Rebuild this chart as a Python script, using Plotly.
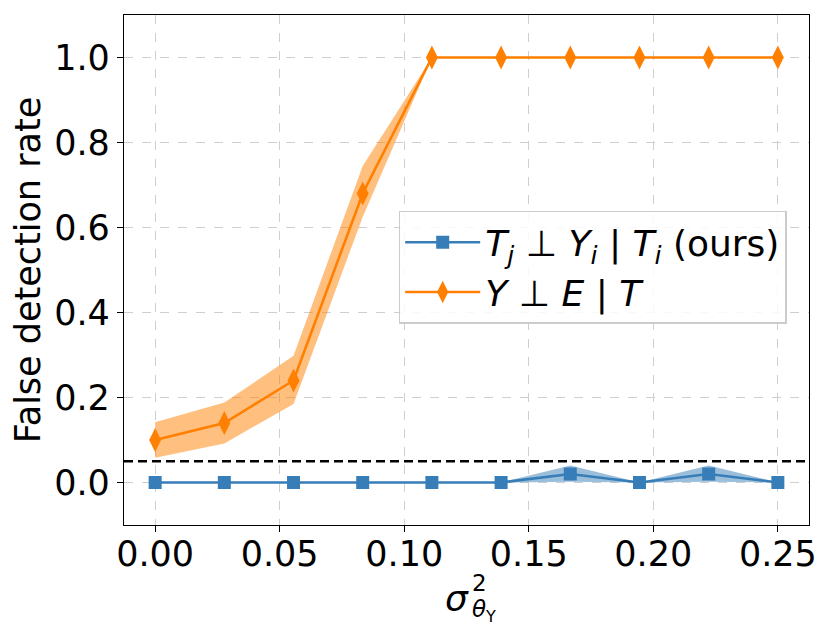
import plotly.graph_objects as go

x_vals = [0.0, 0.02778, 0.05556, 0.08333, 0.11111, 0.13889, 0.16667, 0.19444, 0.22222, 0.25]

ours_mean = [0.0, 0.0, 0.0, 0.0, 0.0, 0.0, 0.02, 0.0, 0.02, 0.0]
ours_lo = [0.0, 0.0, 0.0, 0.0, 0.0, 0.0, 0.002, 0.0, 0.002, 0.0]
ours_hi = [0.0, 0.0, 0.0, 0.0, 0.0, 0.0, 0.04, 0.0, 0.04, 0.0]

base_mean = [0.10, 0.14, 0.24, 0.68, 1.0, 1.0, 1.0, 1.0, 1.0, 1.0]
base_lo = [0.058, 0.092, 0.185, 0.625, 1.0, 1.0, 1.0, 1.0, 1.0, 1.0]
base_hi = [0.142, 0.188, 0.298, 0.745, 1.0, 1.0, 1.0, 1.0, 1.0, 1.0]

threshold = 0.05

x_ticks = [0.0, 0.05, 0.10, 0.15, 0.20, 0.25]
y_ticks = [0.0, 0.2, 0.4, 0.6, 0.8, 1.0]

blue = "#377eb8"
orange = "#ff7f00"
font = "DejaVu Sans"

fig = go.Figure()

# bands
fig.add_trace(go.Scatter(x=x_vals, y=ours_lo, mode="lines", line=dict(width=0),
                         showlegend=False, hoverinfo="skip"))
fig.add_trace(go.Scatter(x=x_vals, y=ours_hi, mode="lines", line=dict(width=0),
                         fill="tonexty", fillcolor="rgba(55,126,184,0.5)",
                         showlegend=False, hoverinfo="skip"))
fig.add_trace(go.Scatter(x=x_vals, y=base_lo, mode="lines", line=dict(width=0),
                         showlegend=False, hoverinfo="skip"))
fig.add_trace(go.Scatter(x=x_vals, y=base_hi, mode="lines", line=dict(width=0),
                         fill="tonexty", fillcolor="rgba(255,127,0,0.5)",
                         showlegend=False, hoverinfo="skip"))

fig.add_trace(go.Scatter(
    x=x_vals, y=ours_mean, mode="lines+markers",
    name="<i>T</i><sub><i>j</i></sub> ⊥ <i>Y</i><sub><i>i</i></sub> | <i>T</i><sub><i>i</i></sub> (ours)",
    line=dict(color=blue, width=2.6),
    marker=dict(symbol="square", size=13, color=blue)))
fig.add_trace(go.Scatter(
    x=x_vals, y=base_mean, mode="lines+markers",
    name="<i>Y</i> ⊥ <i>E</i> | <i>T</i>",
    line=dict(color=orange, width=2.6),
    marker=dict(symbol="diamond-tall", size=17, color=orange)))

fig.add_shape(type="line", xref="paper", yref="y", x0=0, x1=1, y0=threshold, y1=threshold,
              line=dict(color="black", width=2.6, dash="9px,5px"))

axis_common = dict(
    showline=True, linecolor="black", linewidth=1.3, mirror=True,
    ticks="outside", ticklen=6, tickcolor="black", tickwidth=1.3,
    showgrid=True, gridcolor="#cfcfcf", griddash="dash", gridwidth=1.2,
    zeroline=False, automargin=False,
    tickfont=dict(family=font, size=35, color="black"),
)

fig.update_xaxes(range=[-0.0125, 0.2625], tickvals=x_ticks, tickformat=".2f",
                 ticklabelstandoff=-8, **axis_common)
fig.update_yaxes(range=[-0.1, 1.1], tickvals=y_ticks, tickformat=".1f",
                 title=dict(text="False detection rate", font=dict(family=font, size=35, color="black"), standoff=5),
                 **axis_common)

# x-axis title sigma^2_{theta_Y}
fig.add_annotation(xref="paper", yref="paper", x=0.5, y=0, yshift=-73, xshift=-10,
                   text="<i>σ</i>", showarrow=False, xanchor="center", yanchor="middle",
                   font=dict(family=font, size=36, color="black"))
fig.add_annotation(xref="paper", yref="paper", x=0.5, y=0, yshift=-58, xshift=3,
                   text="2", showarrow=False, xanchor="left", yanchor="middle",
                   font=dict(family=font, size=23, color="black"))
fig.add_annotation(xref="paper", yref="paper", x=0.5, y=0, yshift=-86, xshift=3,
                   text="<i>θ</i><sub>Y</sub>", showarrow=False, xanchor="left", yanchor="middle",
                   font=dict(family=font, size=23, color="black"))

fig.update_layout(
    width=831, height=640,
    margin=dict(l=116, r=30, t=7, b=123),
    plot_bgcolor="white", paper_bgcolor="white",
    font=dict(family=font, color="black"),
    legend=dict(x=0.401, y=0.616, xanchor="left", yanchor="top",
                traceorder="normal",
                bgcolor="rgba(255,255,255,0.85)", bordercolor="#cccccc", borderwidth=1.5,
                font=dict(family=font, size=36, color="black"),
                itemwidth=75, tracegroupgap=6),
)

fig.write_html("out.html")
